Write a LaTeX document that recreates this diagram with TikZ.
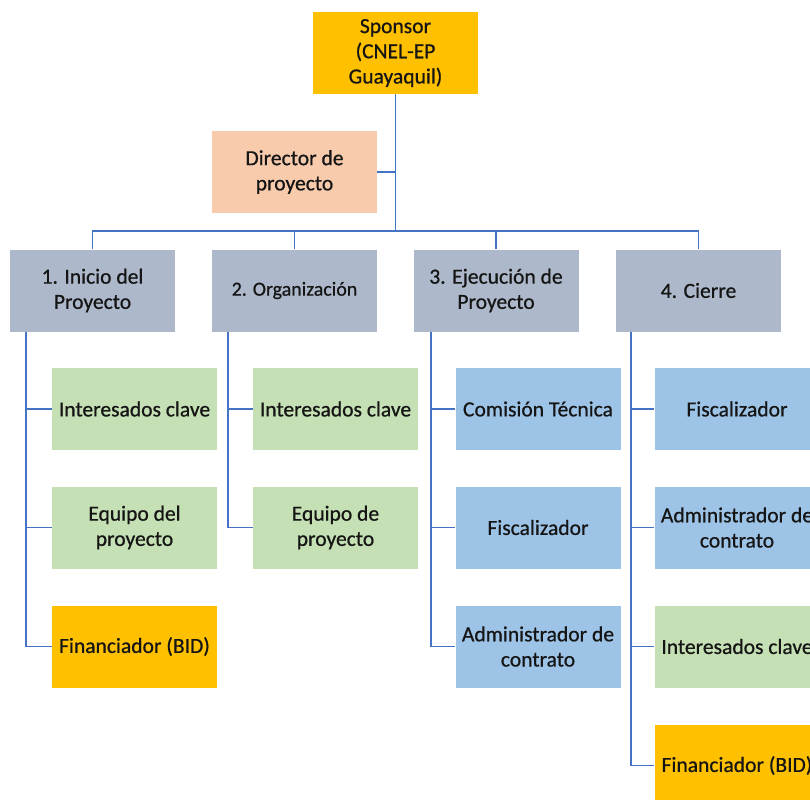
\documentclass[tikz,border=0pt]{standalone}
\usepackage{fontspec}
\setmainfont{Carlito}[BoldFont=Carlito, BoldFeatures={FakeBold=0.7}]
\definecolor{gold}{HTML}{FFC000}
\definecolor{peach}{HTML}{F8CBAD}
\definecolor{slate}{HTML}{ADB9CA}
\definecolor{leaf}{HTML}{C5E0B4}
\definecolor{sky}{HTML}{9DC3E6}
\definecolor{wire}{HTML}{4472C4}
\definecolor{ink}{HTML}{151515}
\begin{document}
\begin{tikzpicture}[x=0.03cm,y=-0.03cm,
  box/.style={rectangle, minimum width=165*0.03cm, minimum height=82*0.03cm, inner sep=0pt,
    align=center, text=ink, font=\fontsize{18.4}{21.5}\selectfont\bfseries},
  conn/.style={draw=wire, line width=1.5pt}]
\useasboundingbox (0,0) rectangle (810,799);
\clip (0,0) rectangle (810,799);
\fill[white] (0,0) rectangle (810,799);
% top
\node[box, fill=gold] (sp) at (395.5,53) {Sponsor\\(CNEL-EP\\Guayaquil)};
\node[box, fill=peach] (dir) at (294.5,172) {Director de\\proyecto};
% level 1
\node[box, fill=slate] (p1) at (92.5,290.5) {1. Inicio del\\Proyecto};
\node[box, fill=slate, font=\fontsize{17}{20.5}\selectfont\bfseries] (p2) at (294.5,290.5) {2. Organización};
\node[box, fill=slate] (p3) at (496,290.5) {3. Ejecución de\\Proyecto};
\node[box, fill=slate] (p4) at (698.5,290.5) {4. Cierre};
% column 1
\node[box, fill=leaf] (a1) at (134.5,409) {Interesados clave};
\node[box, fill=leaf] (a2) at (134.5,527.5) {Equipo del\\proyecto};
\node[box, fill=gold] (a3) at (134.5,646.5) {Financiador (BID)};
% column 2
\node[box, fill=leaf] (b1) at (335.5,409) {Interesados clave};
\node[box, fill=leaf] (b2) at (335.5,527.5) {Equipo de\\proyecto};
% column 3
\node[box, fill=sky] (c1) at (538,409) {Comisión Técnica};
\node[box, fill=sky] (c2) at (538,527.5) {Fiscalizador};
\node[box, fill=sky] (c3) at (538,646.5) {Administrador de\\contrato};
% column 4
\node[box, fill=sky] (d1) at (737,409) {Fiscalizador};
\node[box, fill=sky] (d2) at (737,527.5) {Administrador de\\contrato};
\node[box, fill=leaf] (d3) at (737,646.5) {Interesados clave};
\node[box, fill=gold] (d4) at (737,765.5) {Financiador (BID)};
% trunk and bus
\coordinate (bus) at (395.5,231);
\draw[conn] (sp.south) -- (bus);
\draw[conn] (dir.east) -- (dir.east -| bus);
\draw[conn] (p1.north) |- (bus) -| (p4.north);
\draw[conn] (p2.north) -- (p2.north |- bus);
\draw[conn] (p3.north) -- (p3.north |- bus);
% column spines
\coordinate (k1) at (26,332);
\coordinate (k2) at (228,332);
\coordinate (k3) at (431,332);
\coordinate (k4) at (631,332);
\draw[conn] (k1) |- (a3.west);
\draw[conn] (k1 |- a1.west) -- (a1.west);
\draw[conn] (k1 |- a2.west) -- (a2.west);
\draw[conn] (k2) |- (b2.west);
\draw[conn] (k2 |- b1.west) -- (b1.west);
\draw[conn] (k3) |- (c3.west);
\draw[conn] (k3 |- c1.west) -- (c1.west);
\draw[conn] (k3 |- c2.west) -- (c2.west);
\draw[conn] (k4) |- (d4.west);
\draw[conn] (k4 |- d1.west) -- (d1.west);
\draw[conn] (k4 |- d2.west) -- (d2.west);
\draw[conn] (k4 |- d3.west) -- (d3.west);
\end{tikzpicture}
\end{document}
